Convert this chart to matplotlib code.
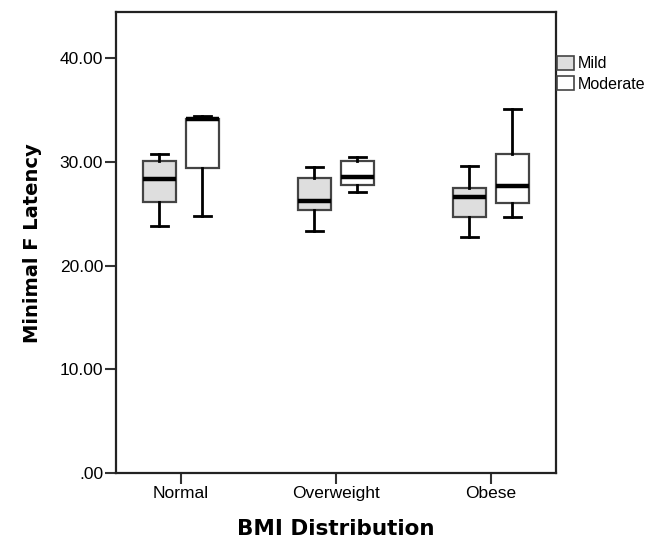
import matplotlib
matplotlib.use("Agg")
import matplotlib.pyplot as plt
from matplotlib.patches import Patch

plt.rcParams['font.family'] = ['Liberation Sans', 'DejaVu Sans']

categories = ["Normal", "Overweight", "Obese"]
series = ["Mild", "Moderate"]
# whislo, q1, median, q3, whishi
mild_lo = [23.8, 23.35, 22.8]
mild_q1 = [26.15, 25.4, 24.7]
mild_med = [28.3, 26.2, 26.6]
mild_q3 = [30.1, 28.4, 27.5]
mild_hi = [30.8, 29.5, 29.6]

mod_lo = [24.8, 27.05, 24.7]
mod_q1 = [29.4, 27.8, 26.05]
mod_med = [34.1, 28.55, 27.7]
mod_q3 = [34.1, 30.1, 30.8]
mod_hi = [34.4, 30.5, 35.1]

yticks = [0, 10, 20, 30, 40]
ytick_labels = [".00", "10.00", "20.00", "30.00", "40.00"]

fig = plt.figure(figsize=(6.7, 5.41), dpi=100)
ax = fig.add_axes([0.1727, 0.1251, 0.6572, 0.8522])

def stats(lo, q1, med, q3, hi):
    return [dict(whislo=a, q1=b, med=c, q3=d, whishi=e, fliers=[])
            for a, b, c, d, e in zip(lo, q1, med, q3, hi)]

offset = 0.139
width = 0.213
for st, shift, fc in [(stats(mild_lo, mild_q1, mild_med, mild_q3, mild_hi), -offset, "#dedede"),
                      (stats(mod_lo, mod_q1, mod_med, mod_q3, mod_hi), offset, "white")]:
    ax.bxp(st, positions=[i + shift for i in range(len(categories))], widths=width,
           patch_artist=True, showfliers=False,
           boxprops=dict(facecolor=fc, edgecolor="#444444", linewidth=1.6),
           medianprops=dict(color="black", linewidth=3.2),
           whiskerprops=dict(color="black", linewidth=2.0),
           capprops=dict(color="black", linewidth=2.0),
           capwidths=width * 0.5)

ax.set_xlim(-0.42, 2.42)
ax.set_ylim(0, 44.4)
ax.set_xticks(range(len(categories)))
ax.set_xticklabels(categories, fontsize=12.5)
ax.set_yticks(yticks)
ax.set_yticklabels(ytick_labels, fontsize=12.5)
ax.tick_params(axis='both', length=8, width=1.5, color="#333333", pad=1)
for s in ax.spines.values():
    s.set_linewidth(1.6)
    s.set_color("#222222")

ax.set_xlabel("BMI Distribution", fontsize=15.5, fontweight="bold", labelpad=13,
              family="DejaVu Sans")
ax.set_ylabel("Minimal F Latency", fontsize=14, fontweight="bold", labelpad=13,
              family="DejaVu Sans")

handles = [Patch(facecolor="#dedede", edgecolor="#444444", linewidth=1.2, label="Mild"),
           Patch(facecolor="white", edgecolor="#444444", linewidth=1.2, label="Moderate")]
fig.legend(handles=handles, loc="upper left", bbox_to_anchor=(0.831, 0.897),
           frameon=False, fontsize=11.5, handlelength=1.05, handleheight=1.0,
           handletextpad=0.25, labelspacing=0.3, borderaxespad=0, borderpad=0)

fig.savefig("out.png", dpi=100)
